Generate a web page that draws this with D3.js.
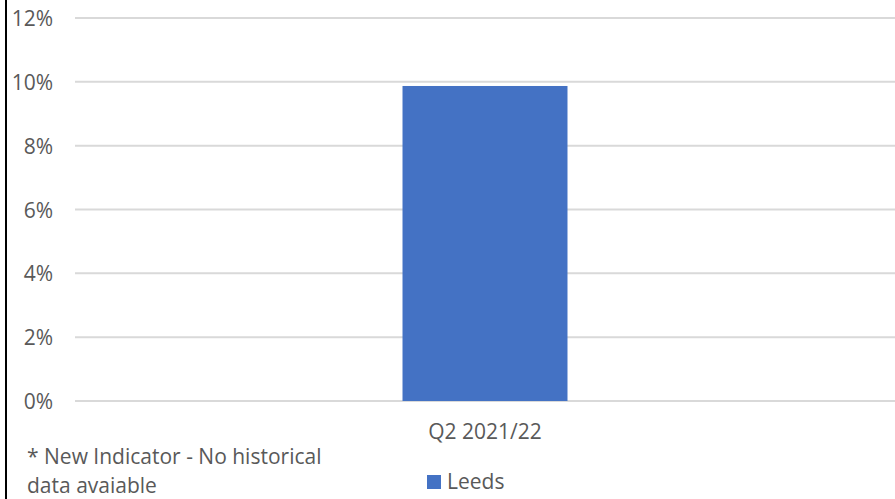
<!DOCTYPE html>
<html>
<head>
<meta charset="utf-8">
<script src="https://cdn.jsdelivr.net/npm/d3@7"></script>
<style>
  html, body { margin: 0; padding: 0; background: #fff; }
  svg { display: block; }
  text { font-family: "Open Sans", "Noto Sans", sans-serif; fill: #595959; }
</style>
</head>
<body>
<svg id="chart" width="895" height="499"></svg>
<script>
// Quarterly indicator value for Leeds
const categories = ["Q2 2021/22"];
const leedsValues = [0.0987];
const seriesName = "Leeds";
const yTicks = [0, 0.02, 0.04, 0.06, 0.08, 0.10, 0.12];
const footnoteLines = ["* New Indicator - No historical", "data avaiable"];

const svg = d3.select("#chart");
const W = 895, H = 499;
const plot = { left: 75, right: 895, top: 18, bottom: 401 };
const fontSize = "21px";

// outer frame line on the left
svg.append("line")
  .attr("x1", 6).attr("x2", 6).attr("y1", 0).attr("y2", H)
  .attr("stroke", "#000").attr("stroke-width", 2);

const y = d3.scaleLinear().domain([0, 0.12]).range([plot.bottom, plot.top]);
const x = d3.scaleBand().domain(categories).range([plot.left, plot.right]).padding(0.665);

// gridlines
svg.append("g")
  .selectAll("line").data(yTicks).join("line")
  .attr("x1", plot.left).attr("x2", plot.right)
  .attr("y1", d => y(d)).attr("y2", d => y(d))
  .attr("stroke", "#d9d9d9").attr("stroke-width", 2);

// y-axis labels
const yAxis = d3.axisLeft(y).tickValues(yTicks).tickFormat(d3.format(".0%")).tickSize(0).tickPadding(0);
const yg = svg.append("g").attr("transform", `translate(53,0)`).call(yAxis);
yg.select(".domain").remove();
yg.selectAll("text").attr("dy", "0.36em").style("font-size", fontSize).attr("fill", "#595959")
  .style("font-family", '"Open Sans", "Noto Sans", sans-serif');

// bars
svg.append("g")
  .selectAll("rect").data(categories).join("rect")
  .attr("x", d => x(d))
  .attr("width", x.bandwidth())
  .attr("y", (d, i) => y(leedsValues[i]))
  .attr("height", (d, i) => y(0) - y(leedsValues[i]))
  .attr("fill", "#4472c4");

// x-axis labels
const xAxis = d3.axisBottom(x).tickSize(0).tickPadding(0);
const xg = svg.append("g").attr("transform", `translate(0,${plot.bottom})`).call(xAxis);
xg.select(".domain").remove();
xg.selectAll("text").attr("dy", null).attr("y", 38).style("font-size", fontSize).attr("fill", "#595959")
  .style("font-family", '"Open Sans", "Noto Sans", sans-serif');

// footnote, kept clear of the bottom edge
const foot = svg.append("g").style("font-size", fontSize);
footnoteLines.forEach((t, i) => {
  foot.append("text").attr("x", 27).attr("y", 464 + i * 29).text(t);
});

// legend
const lg = svg.append("g").attr("transform", "translate(427,475)");
lg.append("rect").attr("width", 14).attr("height", 14).attr("fill", "#4472c4");
lg.append("text").attr("x", 20).attr("y", 14).style("font-size", fontSize).text(seriesName);
</script>
</body>
</html>
